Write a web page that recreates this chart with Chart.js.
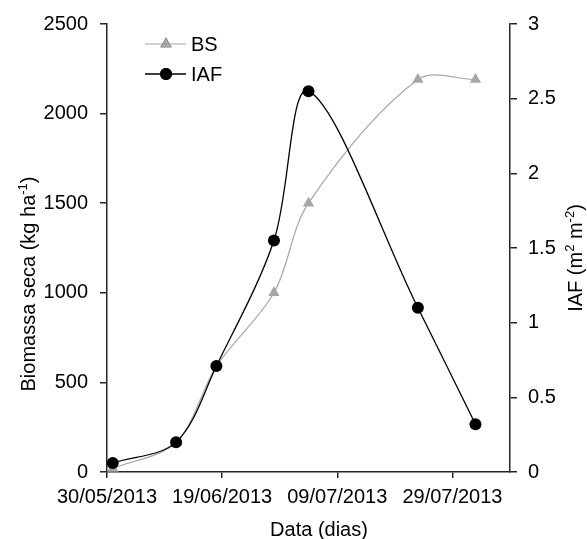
<!DOCTYPE html>
<html>
<head>
<meta charset="utf-8">
<script src="https://cdn.jsdelivr.net/npm/chart.js@4.4.1/dist/chart.umd.min.js"></script>
<style>
  html, body { margin: 0; padding: 0; background: #fff; }
  #wrap { width: 587px; height: 539px; position: relative; }
</style>
</head>
<body>
<div id="wrap"><canvas id="chart"></canvas></div>
<script>
// data
const baseDate = '2013-05-30'
const sampleDates = ['2013-05-31', '2013-06-11', '2013-06-18', '2013-06-28', '2013-07-04', '2013-07-23', '2013-08-02']
const bsValues = [20, 165, 590, 1000, 1500, 2190, 2190]
const iafValues = [0.06, 0.20, 0.71, 1.55, 2.55, 1.10, 0.32]
const xTickDates = ['2013-05-30', '2013-06-19', '2013-07-09', '2013-07-29']
const xEndDate = '2013-08-08'
const seriesNames = ['BS', 'IAF']

const FONT = '"Liberation Sans", Arial, sans-serif'
const GREY = '#a6a6a6'
const AXIS = '#262626'

const dayOf = (d) => Math.round((Date.parse(d) - Date.parse(baseDate)) / 86400000)
const fmtDay = (n) => {
    const d = new Date(Date.parse(baseDate) + n * 86400000)
    const p = (v) => String(v).padStart(2, '0')
    return `${p(d.getUTCDate())}/${p(d.getUTCMonth() + 1)}/${d.getUTCFullYear()}`
}

const sampleDays = sampleDates.map(dayOf)
const tickDays = xTickDates.map(dayOf)

// text pieces, sup = superscript
const yLeftTitle = [{ text: 'Biomassa seca (kg ha' }, { text: '-1', sup: true }, { text: ')' }]
const yRightTitle = [{ text: 'IAF (m' }, { text: '2', sup: true }, { text: ' m' }, { text: '-2', sup: true }, { text: ')' }]
const xTitle = [{ text: 'Data (dias)' }]

function drawRich(ctx, parts, x, y, rotate) {
    ctx.save()
    ctx.translate(x, y)
    if (rotate) ctx.rotate(-Math.PI / 2)
    let total = 0
    parts.forEach(p => {
        ctx.font = (p.sup ? 13 : 20) + 'px ' + FONT
        p.w = ctx.measureText(p.text).width
        total += p.w
    })
    let cx = -total / 2
    ctx.textAlign = 'left'
    ctx.textBaseline = 'middle'
    ctx.fillStyle = '#000'
    parts.forEach(p => {
        ctx.font = (p.sup ? 13 : 20) + 'px ' + FONT
        ctx.fillText(p.text, cx, p.sup ? -6 : 0)
        cx += p.w
    })
    ctx.restore()
}

const overlay = {
    id: 'overlay',
    afterDraw(chart) {
        const ctx = chart.ctx
        drawRich(ctx, yLeftTitle, 29, 284, true)
        drawRich(ctx, yRightTitle, 576, 258, true)
        drawRich(ctx, xTitle, 319, 530, false)

        // legend, top left inside the plot
        const rows = [chart.data.datasets[0], chart.data.datasets[1]]
        rows.forEach((ds, i) => {
            const y = 44 + i * 30
            ctx.save()
            ctx.strokeStyle = ds.borderColor
            ctx.lineWidth = ds.borderWidth
            ctx.beginPath()
            ctx.moveTo(145, y)
            ctx.lineTo(186, y)
            ctx.stroke()
            Chart.helpers.drawPoint(ctx, {
                pointStyle: ds.pointStyle,
                radius: ds.pointRadius,
                borderWidth: 0,
                rotation: 0,
            }, 166, y)
            ctx.fillStyle = ds.pointBackgroundColor
            ctx.fill()
            ctx.fillStyle = '#000'
            ctx.font = '20px ' + FONT
            ctx.textBaseline = 'middle'
            ctx.fillText(ds.label, 191, y + 1)
            ctx.restore()
        })
    }
}

const tickFont = { family: FONT, size: 20 }
const axisGrid = (len) => ({
    display: true,
    drawOnChartArea: false,
    drawTicks: true,
    tickLength: len,
    color: AXIS,
    lineWidth: 1.5,
})
const axisBorder = { display: true, color: AXIS, width: 1.5 }

new Chart(document.getElementById('chart'), {
    type: 'line',
    data: {
        datasets: [
            {
                label: seriesNames[0],
                data: sampleDays.map((x, i) => ({ x: x, y: bsValues[i] })),
                yAxisID: 'y',
                borderColor: GREY,
                borderWidth: 1.2,
                pointStyle: 'triangle',
                pointRadius: 6.5,
                pointBackgroundColor: GREY,
                pointBorderWidth: 0,
                tension: 0.33,
                order: 1,
            },
            {
                label: seriesNames[1],
                data: sampleDays.map((x, i) => ({ x: x, y: iafValues[i] })),
                yAxisID: 'y1',
                borderColor: '#000',
                borderWidth: 1.3,
                pointStyle: 'circle',
                pointRadius: 6,
                pointBackgroundColor: '#000',
                pointBorderWidth: 0,
                tension: 0.33,
                order: 0,
            },
        ],
    },
    options: {
        responsive: true,
        maintainAspectRatio: false,
        animation: false,
        layout: { padding: { top: 24, left: 0, right: 0, bottom: 0 } },
        plugins: {
            legend: { display: false },
            tooltip: { enabled: false },
        },
        scales: {
            x: {
                type: 'linear',
                min: 0,
                max: dayOf(xEndDate),
                afterBuildTicks: (scale) => {
                    scale.ticks = tickDays.map(v => ({ value: v }))
                },
                afterFit: (scale) => { scale.height = 67 },
                grid: axisGrid(6),
                border: axisBorder,
                ticks: {
                    font: tickFont,
                    color: '#000',
                    padding: 7,
                    maxRotation: 0,
                    autoSkip: false,
                    callback: (v) => fmtDay(v),
                },
            },
            y: {
                position: 'left',
                min: 0,
                max: 2500,
                afterFit: (scale) => { scale.width = 107 },
                grid: axisGrid(7),
                border: axisBorder,
                ticks: {
                    stepSize: 500,
                    font: tickFont,
                    color: '#000',
                    padding: 12,
                    callback: (v) => String(v),
                },
            },
            y1: {
                position: 'right',
                min: 0,
                max: 3,
                afterFit: (scale) => { scale.width = 77 },
                grid: axisGrid(7),
                border: axisBorder,
                ticks: {
                    stepSize: 0.5,
                    font: tickFont,
                    color: '#000',
                    padding: 11,
                    callback: (v) => String(v),
                },
            },
        },
    },
    plugins: [overlay],
})
</script>
</body>
</html>
